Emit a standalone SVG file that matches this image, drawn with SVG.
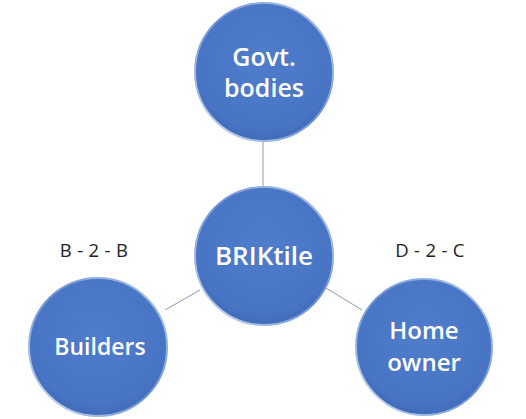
<svg xmlns="http://www.w3.org/2000/svg" width="526" height="419" viewBox="0 0 526 419">
<defs>
<radialGradient id="fill" cx="50%" cy="40%" r="60%">
<stop offset="0" stop-color="#4f7dcc"/>
<stop offset="0.85" stop-color="#4874c4"/>
<stop offset="1" stop-color="#406bb8"/>
</radialGradient>
<linearGradient id="rim" x1="0" y1="1" x2="1" y2="0">
<stop offset="0" stop-color="#d3e0f4"/>
<stop offset="0.5" stop-color="#6a91d2"/>
<stop offset="1" stop-color="#b5caec"/>
</linearGradient>
<style>
.c{fill:url(#fill);stroke:url(#rim);stroke-width:2}
.t{fill:#ffffff;font-family:"Open Sans","Liberation Sans",sans-serif;font-weight:600;text-anchor:middle}
.l{fill:#222222;font-family:"Open Sans","Liberation Sans",sans-serif;font-size:18.5px;text-anchor:middle;letter-spacing:0.3px}
.e{stroke:#8a9ab0;stroke-width:1;fill:none}
</style>
</defs>
<rect width="526" height="419" fill="#ffffff"/>
<g id="connectors">
<line class="e" x1="263" y1="142" x2="263" y2="186"/>
<line class="e" x1="200" y1="290" x2="165" y2="310"/>
<line class="e" x1="326" y1="288" x2="362" y2="310"/>
</g>
<g id="govt">
<circle class="c" cx="264" cy="72" r="69"/>
<text class="t" x="264" y="66" font-size="25">Govt.</text>
<text class="t" x="264" y="97" font-size="25">bodies</text>
</g>
<g id="briktile">
<circle class="c" cx="264" cy="256" r="69"/>
<text class="t" x="264" y="265" font-size="26" font-weight="700">BRIKtile</text>
</g>
<g id="builders">
<circle class="c" cx="98" cy="347" r="69"/>
<text class="t" x="100" y="355" font-size="23">Builders</text>
</g>
<g id="homeowner">
<circle class="c" cx="424" cy="347" r="68"/>
<text class="t" x="424" y="339" font-size="24">Home</text>
<text class="t" x="424" y="371" font-size="24">owner</text>
</g>
<g id="labels">
<text class="l" x="94" y="257">B - 2 - B</text>
<text class="l" x="430" y="257">D - 2 - C</text>
</g>
</svg>
